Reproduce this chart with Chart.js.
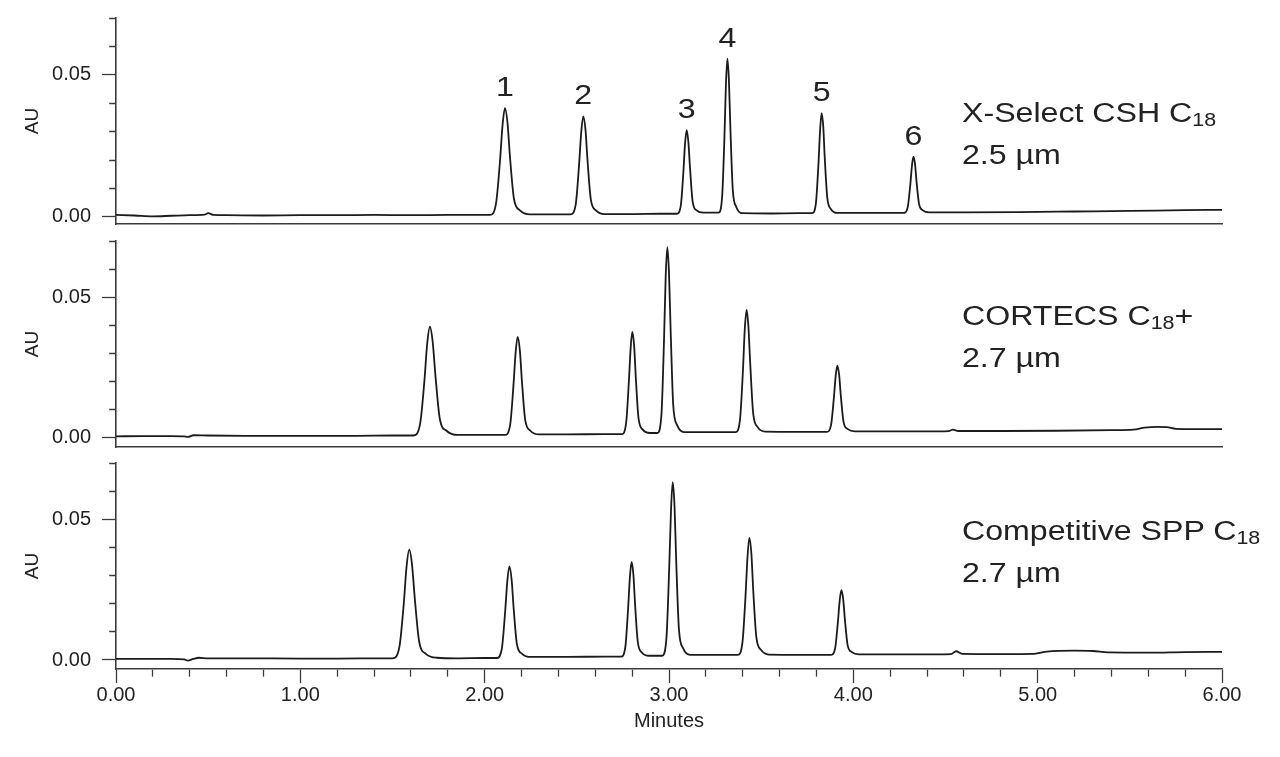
<!DOCTYPE html>
<html lang="en">
<head>
<meta charset="utf-8">
<title>Chromatograms</title>
<script src="https://cdn.jsdelivr.net/npm/chart.js@4.4.0/dist/chart.umd.min.js"></script>
<style>
  html, body { margin: 0; padding: 0; background: #fff; }
  body { width: 1280px; height: 757px; position: relative; overflow: hidden; font-family: "Liberation Sans", Arial, sans-serif; }
  .panel { position: absolute; left: 0; width: 1280px; }
  .column-name { position: absolute; left: 962px; font-size: 27px; line-height: 42px; color: #222; white-space: nowrap; transform: scaleX(1.19); transform-origin: 0 0; }
  .column-name .sub { font-size: 18px; vertical-align: -4px; line-height: 0; }
</style>
</head>
<body>
<div class="panel" style="top:0;height:240px"><canvas id="chartXSelect"></canvas></div>
<div class="panel" style="top:235px;height:225px"><canvas id="chartCortecs"></canvas></div>
<div class="panel" style="top:455px;height:302px"><canvas id="chartSpp"></canvas></div>

<div class="column-name" style="top:92px">X-Select CSH C<span class="sub">18</span><br>2.5 µm</div>
<div class="column-name" style="top:295px">CORTECS C<span class="sub">18</span>+<br>2.7 µm</div>
<div class="column-name" style="top:510px">Competitive SPP C<span class="sub">18</span><br>2.7 µm</div>

<script>
// traces: retention time (minutes) and absorbance (AU)
const minutesXSelect = [
  0, 0.10, 0.20, 0.30, 0.40, 0.48, 0.50, 0.53, 0.60, 0.80, 1.00, 1.20, 1.40, 1.60, 1.80, 2.00,
  2.029, 2.061, 2.083, 2.097, 2.110, 2.124, 2.137, 2.159, 2.191, 2.245,
  2.350, 2.420,
  2.466, 2.494, 2.512, 2.524, 2.535, 2.547, 2.558, 2.576, 2.604, 2.650,
  2.800, 2.950,
  3.042, 3.064, 3.078, 3.087, 3.096, 3.105, 3.114, 3.128, 3.150, 3.186,
  3.230,
  3.269, 3.288, 3.301, 3.309, 3.317, 3.325, 3.333, 3.346, 3.365, 3.397,
  3.550, 3.700,
  3.777, 3.797, 3.811, 3.820, 3.828, 3.837, 3.845, 3.859, 3.879, 3.913,
  4.050, 4.200,
  4.275, 4.295, 4.309, 4.318, 4.326, 4.335, 4.343, 4.357, 4.377, 4.411,
  4.600, 4.900, 5.200, 5.500, 5.800, 6.000
];
const auXSelect = [
  0.0007, 0.0005, 0.0002, 0.0004, 0.0006, 0.0008, 0.0013, 0.0007, 0.0006, 0.0005, 0.0006, 0.0006, 0.0007, 0.0006, 0.0007, 0.0007,
  0.0007, 0.0045, 0.0195, 0.0323, 0.0383, 0.0330, 0.0214, 0.0063, 0.0023, 0.0009,
  0.0009, 0.0009,
  0.0009, 0.0044, 0.0182, 0.0299, 0.0354, 0.0306, 0.0199, 0.0061, 0.0023, 0.0010,
  0.0010, 0.0011,
  0.0011, 0.0040, 0.0158, 0.0258, 0.0305, 0.0264, 0.0173, 0.0055, 0.0023, 0.0015,
  0.0015,
  0.0015, 0.0069, 0.0286, 0.0470, 0.0557, 0.0481, 0.0313, 0.0096, 0.0035, 0.0013,
  0.0012, 0.0013,
  0.0013, 0.0048, 0.0189, 0.0309, 0.0365, 0.0316, 0.0207, 0.0066, 0.0027, 0.0014,
  0.0014, 0.0014,
  0.0014, 0.0034, 0.0113, 0.0180, 0.0212, 0.0184, 0.0123, 0.0044, 0.0023, 0.0016,
  0.0016, 0.0017, 0.0019, 0.0021, 0.0024, 0.0025
];

const minutesCortecs = [
  0, 0.15, 0.30, 0.37, 0.39, 0.42, 0.50, 0.70, 1.00, 1.30, 1.50,
  1.613, 1.649, 1.673, 1.688, 1.703, 1.718, 1.733, 1.757, 1.793, 1.853,
  1.950, 2.050,
  2.110, 2.138, 2.156, 2.168, 2.179, 2.191, 2.202, 2.220, 2.248, 2.294,
  2.450, 2.650,
  2.744, 2.767, 2.782, 2.792, 2.801, 2.811, 2.820, 2.835, 2.858, 2.896,
  2.920,
  2.937, 2.959, 2.973, 2.982, 2.991, 3.000, 3.009, 3.023, 3.045, 3.081,
  3.200, 3.300,
  3.361, 3.385, 3.401, 3.411, 3.421, 3.431, 3.441, 3.457, 3.481, 3.521,
  3.700, 3.800,
  3.856, 3.879, 3.894, 3.904, 3.913, 3.923, 3.932, 3.947, 3.970, 4.008,
  4.200, 4.450, 4.520, 4.540, 4.570, 4.800, 5.100, 5.400, 5.520, 5.580, 5.650, 5.700, 5.750, 5.850, 6.000
];
const auCortecs = [
  0.0003, 0.0004, 0.0004, 0.0003, 0.0001, 0.0007, 0.0006, 0.0005, 0.0005, 0.0005, 0.0006,
  0.0006, 0.0045, 0.0200, 0.0332, 0.0394, 0.0340, 0.0219, 0.0064, 0.0023, 0.0008,
  0.0008, 0.0008,
  0.0008, 0.0043, 0.0183, 0.0302, 0.0358, 0.0309, 0.0201, 0.0061, 0.0023, 0.0010,
  0.0010, 0.0011,
  0.0011, 0.0048, 0.0194, 0.0318, 0.0376, 0.0325, 0.0212, 0.0066, 0.0027, 0.0015,
  0.0015,
  0.0015, 0.0081, 0.0347, 0.0572, 0.0678, 0.0585, 0.0380, 0.0114, 0.0042, 0.0018,
  0.0018, 0.0018,
  0.0018, 0.0062, 0.0236, 0.0384, 0.0454, 0.0393, 0.0258, 0.0083, 0.0036, 0.0020,
  0.0019, 0.0019,
  0.0019, 0.0043, 0.0137, 0.0217, 0.0255, 0.0222, 0.0149, 0.0054, 0.0029, 0.0021,
  0.0021, 0.0021, 0.0022, 0.0027, 0.0022, 0.0022, 0.0023, 0.0025, 0.0027, 0.0034, 0.0037, 0.0036, 0.0030, 0.0029, 0.0029
];

const minutesSpp = [
  0, 0.15, 0.30, 0.37, 0.39, 0.42, 0.45, 0.50, 0.70, 1.00, 1.20, 1.45,
  1.501, 1.537, 1.561, 1.576, 1.591, 1.606, 1.621, 1.645, 1.681, 1.741,
  1.850, 2.000,
  2.065, 2.093, 2.111, 2.123, 2.134, 2.146, 2.157, 2.175, 2.203, 2.249,
  2.450, 2.650,
  2.740, 2.763, 2.778, 2.788, 2.797, 2.807, 2.816, 2.831, 2.854, 2.892,
  2.930,
  2.963, 2.986, 3.001, 3.011, 3.020, 3.030, 3.039, 3.054, 3.077, 3.115,
  3.250, 3.330,
  3.373, 3.398, 3.415, 3.426, 3.436, 3.447, 3.457, 3.474, 3.499, 3.541,
  3.720, 3.820,
  3.878, 3.901, 3.916, 3.926, 3.935, 3.945, 3.954, 3.969, 3.992, 4.030,
  4.200, 4.450, 4.530, 4.557, 4.590, 4.800, 4.980, 5.050, 5.200, 5.300, 5.380, 5.600, 5.800, 6.000
];
const auSpp = [
  0.0004, 0.0004, 0.0004, 0.0002, -0.0002, 0.0004, 0.0008, 0.0006, 0.0006, 0.0005, 0.0005, 0.0006,
  0.0006, 0.0045, 0.0199, 0.0330, 0.0392, 0.0338, 0.0218, 0.0064, 0.0022, 0.0008,
  0.0006, 0.0007,
  0.0007, 0.0040, 0.0170, 0.0281, 0.0333, 0.0287, 0.0186, 0.0056, 0.0022, 0.0011,
  0.0011, 0.0012,
  0.0012, 0.0046, 0.0181, 0.0295, 0.0349, 0.0302, 0.0197, 0.0063, 0.0026, 0.0015,
  0.0015,
  0.0015, 0.0077, 0.0324, 0.0533, 0.0632, 0.0546, 0.0354, 0.0108, 0.0041, 0.0018,
  0.0018, 0.0018,
  0.0018, 0.0060, 0.0226, 0.0367, 0.0434, 0.0376, 0.0247, 0.0080, 0.0036, 0.0019,
  0.0018, 0.0018,
  0.0018, 0.0041, 0.0133, 0.0211, 0.0248, 0.0216, 0.0145, 0.0053, 0.0028, 0.0020,
  0.0020, 0.0020, 0.0021, 0.0031, 0.0022, 0.0021, 0.0022, 0.0030, 0.0033, 0.0032, 0.0027, 0.0026, 0.0028, 0.0029
];

// tick marks on every AU axis; only 0.00 and 0.05 carry a label
const auTicks = [0.00, 0.01, 0.02, 0.03, 0.04, 0.05, 0.06, 0.07];

// peak numbers written over the top trace, at these retention times
const peakNumbers = ['1', '2', '3', '4', '5', '6'];
const peakTimesXSelect = [2.110, 2.535, 3.096, 3.317, 3.828, 4.326];

const FONT = '"Liberation Sans", Arial, Helvetica, sans-serif';
const INK = '#1b1b1b';
const AXIS = '#3c3c3c';
Chart.defaults.font.family = FONT;
Chart.defaults.color = '#222';

function isMajorY(v) { return Math.round(v * 100) % 5 === 0; }
function isMajorX(v) { return Math.round(v * 10) % 10 === 0; }

// writes the peak numbers just above each apex
const peakLabelPlugin = {
  id: 'peakLabels',
  afterDatasetsDraw(chart, args, opts) {
    if (!opts.times) return;
    const ctx = chart.ctx;
    const raw = chart.data.datasets[0].data;
    const els = chart.getDatasetMeta(0).data;
    ctx.save();
    ctx.font = '27px ' + FONT;
    ctx.fillStyle = '#222';
    ctx.textAlign = 'center';
    ctx.textBaseline = 'alphabetic';
    opts.times.forEach((t, i) => {
      const idx = raw.findIndex(p => p.x === t);
      if (idx < 0) return;
      ctx.save();
      ctx.translate(els[idx].x, els[idx].y - 12);
      ctx.scale(1.19, 1);
      ctx.fillText(opts.labels[i], 0, 0);
      ctx.restore();
    });
    ctx.restore();
  }
};

function makeChart(id, minutes, au, cfg) {
  const bottom = !!cfg.bottomAxis;
  const points = minutes.map((t, i) => ({ x: t, y: au[i] }));
  return new Chart(document.getElementById(id), {
    type: 'line',
    data: {
      datasets: [{
        data: points,
        borderColor: INK,
        borderWidth: 1.8,
        pointRadius: 0,
        fill: false,
        cubicInterpolationMode: 'monotone'
      }]
    },
    options: {
      responsive: true,
      maintainAspectRatio: false,
      animation: false,
      events: [],
      layout: { padding: { top: cfg.padTop, right: 58, bottom: cfg.padBottom, left: 0 } },
      plugins: {
        legend: { display: false },
        tooltip: { enabled: false },
        peakLabels: cfg.peaks || {}
      },
      scales: {
        x: {
          type: 'linear',
          min: 0,
          max: 6,
          bounds: 'data',
          border: { display: true, color: AXIS, width: 1.6 },
          grid: {
            display: bottom,
            drawOnChartArea: false,
            drawTicks: bottom,
            tickLength: 14,
            tickColor: AXIS,
            tickWidth: 1.3,
            tickBorderDash: c => (c.tick && isMajorX(c.tick.value)) ? [] : [7, 100]
          },
          ticks: {
            display: bottom,
            stepSize: 0.2,
            autoSkip: false,
            maxRotation: 0,
            padding: 0,
            color: '#222',
            font: { size: 20 },
            callback: v => isMajorX(v) ? v.toFixed(2) : ''
          },
          title: { display: bottom, text: 'Minutes', color: '#222', font: { size: 20 }, padding: { top: 0, bottom: 24 } },
          afterFit: s => { s.height = bottom ? 88 : 0; s.paddingLeft = 0; s.paddingRight = 0; }
        },
        y: {
          min: cfg.yMin,
          max: 0.07,
          border: { display: true, color: AXIS, width: 1.6 },
          grid: {
            drawOnChartArea: false,
            tickLength: 14,
            tickColor: AXIS,
            tickWidth: 1.3,
            tickBorderDash: c => (c.tick && isMajorY(c.tick.value)) ? [] : [0, 7.2, 6, 100]
          },
          ticks: {
            padding: 11,
            color: '#222',
            font: { size: 20 },
            callback: v => isMajorY(v) ? v.toFixed(2) : ''
          },
          title: { display: true, text: 'AU', color: '#222', font: { size: 19 }, padding: { top: 21, bottom: 0 } },
          afterBuildTicks: s => { s.ticks = auTicks.map(v => ({ value: v })); },
          afterFit: s => { s.width = 116; s.paddingTop = 0; s.paddingBottom = 0; }
        }
      }
    },
    plugins: [peakLabelPlugin]
  });
}

makeChart('chartXSelect', minutesXSelect, auXSelect, {
  padTop: 18, padBottom: 16, yMin: -0.0025,
  peaks: { times: peakTimesXSelect, labels: peakNumbers }
});
makeChart('chartCortecs', minutesCortecs, auCortecs, { padTop: 6, padBottom: 13, yMin: -0.0035 });
makeChart('chartSpp', minutesSpp, auSpp, { padTop: 8, padBottom: 0, yMin: -0.0032, bottomAxis: true });
</script>
</body>
</html>
